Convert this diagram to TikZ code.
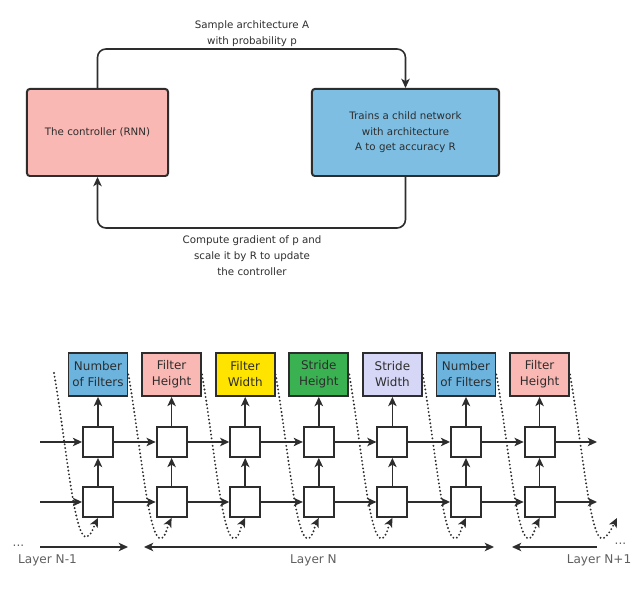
\documentclass[tikz,border=0pt]{standalone}
\usepackage{fontspec}
\setmainfont{DejaVu Sans}
\usetikzlibrary{arrows.meta,positioning}

\definecolor{edge}{RGB}{45,45,45}
\definecolor{ctrlpink}{RGB}{250,184,180}
\definecolor{childblue}{RGB}{126,190,226}
\definecolor{nfblue}{RGB}{108,180,222}
\definecolor{fwyellow}{RGB}{255,228,0}
\definecolor{shgreen}{RGB}{58,178,82}
\definecolor{swlav}{RGB}{214,214,246}
\definecolor{laygray}{RGB}{95,95,95}

\begin{document}
\begin{tikzpicture}[x=0.025cm, y=0.025cm,
        >={Stealth[length=2.3mm, width=2.1mm, inset=0.6mm]},
        bigbox/.style={rectangle, draw=edge, line width=1.4pt, rounded corners=2pt, minimum height=2.175cm, inner sep=0pt, align=center, text=edge, font=\fontsize{7.3}{11}\selectfont},
        prm/.style={rectangle, draw=edge, line width=1.3pt, minimum width=1.475cm, minimum height=1.075cm, inner sep=0pt, align=center, text=edge, font=\fontsize{8.5}{11.4}\selectfont},
        cell/.style={rectangle, draw=edge, line width=1.3pt, fill=white, minimum size=0.75cm, inner sep=0pt},
        arr/.style={->, draw=edge, line width=1.15pt},
        dots/.style={->, draw=edge, line width=1.5pt, dash pattern=on 0pt off 2.7pt, line cap=round},
        lbl/.style={align=center, text=edge, font=\fontsize{7.3}{11.4}\selectfont},
        lay/.style={text=laygray, font=\fontsize{8.6}{10}\selectfont}
    ]
    \useasboundingbox (0,0) rectangle (634,597);

    %% ---- controller loop ----
    \node[bigbox, fill=ctrlpink, minimum width=3.525cm] (ctrl) at (97.5,464.5) {The controller (RNN)};
    \node[bigbox, fill=childblue, minimum width=4.675cm] (child) at (405.5,464.5)
          {Trains a child network\\with architecture\\A to get accuracy R};
    \draw[arr, rounded corners=6pt] (ctrl.north) -- ++(0,39) -| (child.north);
    \draw[arr, rounded corners=6pt] (child.south) -- ++(0,-51) -| (ctrl.south);
    \node[lbl] (samp) at (252,563) {Sample architecture A\\with probability p};
    \node[lbl] (grad) at (252,341) {Compute gradient of p and\\scale it by R to update\\the controller};

    %% ---- unrolled RNN ----
    % column 1
    \node[prm, fill=nfblue] (p1) at (98,222.5) {Number\\of Filters};
    \node[cell] (u1) at (98,155) {};
    \node[cell] (d1) at (98,95) {};
    \draw[arr] (d1) -- (u1);
    \draw[arr] (u1) -- (p1);
    % column 2
    \node[prm, fill=ctrlpink] (p2) at (171.6,222.5) {Filter\\Height};
    \node[cell] (u2) at (171.6,155) {};
    \node[cell] (d2) at (171.6,95) {};
    \draw[arr] (d2) -- (u2);
    \draw[arr] (u2) -- (p2);
    % column 3
    \node[prm, fill=fwyellow] (p3) at (245.2,222.5) {Filter\\Width};
    \node[cell] (u3) at (245.2,155) {};
    \node[cell] (d3) at (245.2,95) {};
    \draw[arr] (d3) -- (u3);
    \draw[arr] (u3) -- (p3);
    % column 4
    \node[prm, fill=shgreen] (p4) at (318.8,222.5) {Stride\\Height};
    \node[cell] (u4) at (318.8,155) {};
    \node[cell] (d4) at (318.8,95) {};
    \draw[arr] (d4) -- (u4);
    \draw[arr] (u4) -- (p4);
    % column 5
    \node[prm, fill=swlav] (p5) at (392.4,222.5) {Stride\\Width};
    \node[cell] (u5) at (392.4,155) {};
    \node[cell] (d5) at (392.4,95) {};
    \draw[arr] (d5) -- (u5);
    \draw[arr] (u5) -- (p5);
    % column 6
    \node[prm, fill=nfblue] (p6) at (466,222.5) {Number\\of Filters};
    \node[cell] (u6) at (466,155) {};
    \node[cell] (d6) at (466,95) {};
    \draw[arr] (d6) -- (u6);
    \draw[arr] (u6) -- (p6);
    % column 7
    \node[prm, fill=ctrlpink] (p7) at (539.6,222.5) {Filter\\Height};
    \node[cell] (u7) at (539.6,155) {};
    \node[cell] (d7) at (539.6,95) {};
    \draw[arr] (d7) -- (u7);
    \draw[arr] (u7) -- (p7);

    % recurrent rows
    \coordinate (uin) at (40,155);
    \coordinate (din) at (40,95);
    \coordinate (uout) at (597,155);
    \coordinate (dout) at (597,95);
    \draw[arr] (uin)--(u1);
    \draw[arr] (u1)--(u2);
    \draw[arr] (u2)--(u3);
    \draw[arr] (u3)--(u4);
    \draw[arr] (u4)--(u5);
    \draw[arr] (u5)--(u6);
    \draw[arr] (u6)--(u7);
    \draw[arr] (u7)--(uout);
    \draw[arr] (din)--(d1);
    \draw[arr] (d1)--(d2);
    \draw[arr] (d2)--(d3);
    \draw[arr] (d3)--(d4);
    \draw[arr] (d4)--(d5);
    \draw[arr] (d5)--(d6);
    \draw[arr] (d6)--(d7);
    \draw[arr] (d7)--(dout);

    % feedback of each output
    \coordinate (s0) at (54,224);
    \coordinate (e8) at (617,79);
    \draw[dots] (s0) .. controls +(12,-70) and +(-12,0) .. ++(32,-164) .. controls +(5,0) and +(-4,-8) .. (d1.south);
    \draw[dots] (p1.east) .. controls +(12,-70) and +(-12,0) .. ++(32,-164) .. controls +(5,0) and +(-4,-8) .. (d2.south);
    \draw[dots] (p2.east) .. controls +(12,-70) and +(-12,0) .. ++(32,-164) .. controls +(5,0) and +(-4,-8) .. (d3.south);
    \draw[dots] (p3.east) .. controls +(12,-70) and +(-12,0) .. ++(32,-164) .. controls +(5,0) and +(-4,-8) .. (d4.south);
    \draw[dots] (p4.east) .. controls +(12,-70) and +(-12,0) .. ++(32,-164) .. controls +(5,0) and +(-4,-8) .. (d5.south);
    \draw[dots] (p5.east) .. controls +(12,-70) and +(-12,0) .. ++(32,-164) .. controls +(5,0) and +(-4,-8) .. (d6.south);
    \draw[dots] (p6.east) .. controls +(12,-70) and +(-12,0) .. ++(32,-164) .. controls +(5,0) and +(-4,-8) .. (d7.south);
    \draw[dots] (p7.east) .. controls +(12,-70) and +(-12,0) .. ++(32,-164) .. controls +(5,0) and +(-4,-8) .. (e8);

    %% ---- layers ----
    \coordinate (l1a) at (40,50);
    \coordinate (l1b) at (128,50);
    \coordinate (l2a) at (144,50);
    \coordinate (l2b) at (494,50);
    \coordinate (l3a) at (512,50);
    \coordinate (l3b) at (597,50);
    \draw[arr] (l1a) -- (l1b);
    \draw[arr, <->] (l2a) -- (l2b);
    \draw[arr, <-] (l3a) -- (l3b);
    \node[lay, anchor=base] (dl) at (18.5,50) {...};
    \node[lay, anchor=base] (dr) at (620.5,52) {...};
    \node[lay] (ln1) at (47.5,37) {Layer N-1};
    \node[lay] (ln) at (313.5,37) {Layer N};
    \node[lay] (ln2) at (599,37) {Layer N+1};

\end{tikzpicture}
\end{document}
